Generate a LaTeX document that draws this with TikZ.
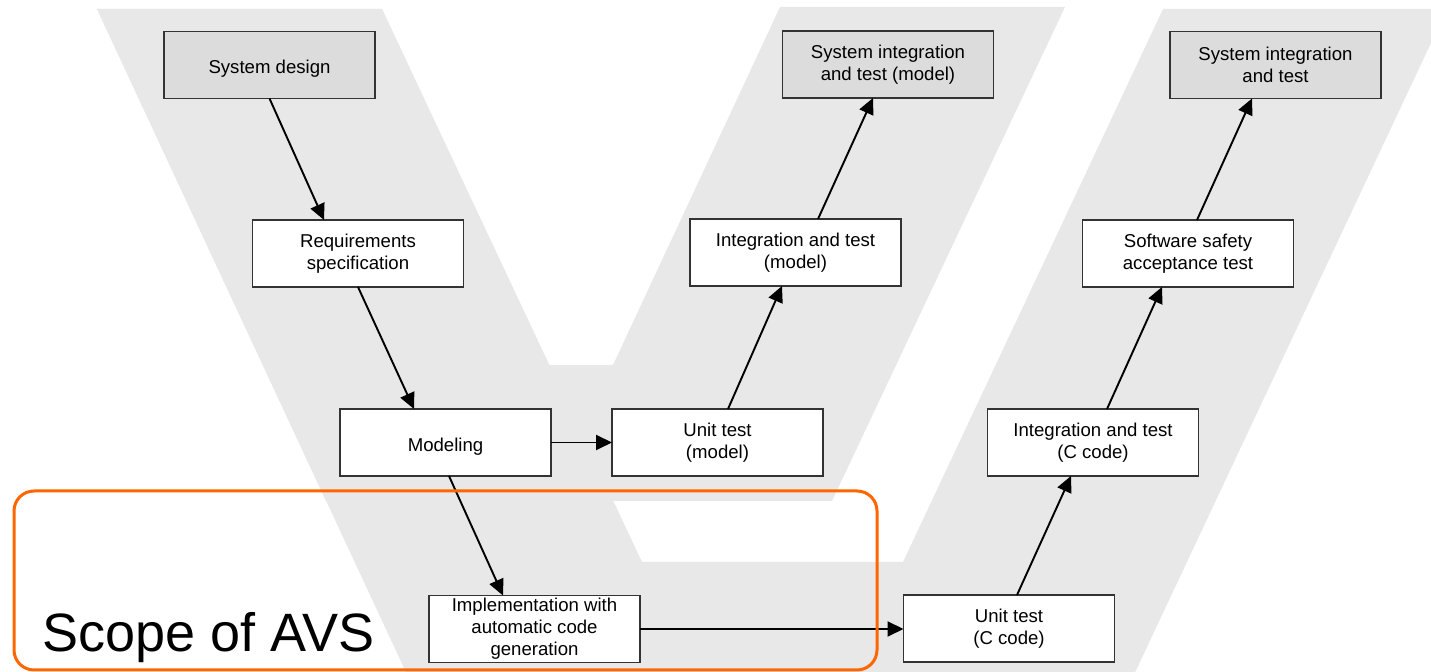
\documentclass[tikz,border=0pt]{standalone}
\usepackage{fontspec}
\setmainfont{Liberation Sans}
\usetikzlibrary{arrows.meta}
\definecolor{vgray}{RGB}{232,232,232}
\definecolor{boxgray}{RGB}{220,220,220}
\definecolor{scopeorange}{RGB}{255,102,0}

\begin{document}
\begin{tikzpicture}[x=0.5pt,y=-0.5pt,
  stage/.style={draw=black!80, line width=0.7pt, fill=white,
    minimum width=105.5pt, minimum height=33.5pt, inner sep=0pt,
    outer sep=0pt, align=center, font=\fontsize{9.3}{11}\selectfont},
  sysstage/.style={stage, fill=boxgray},
  oneline/.style={text height=9.5pt, text depth=0.5pt},
  flow/.style={line width=0.95pt, -{Triangle[length=8pt,width=7.5pt]}},
]
\useasboundingbox (0,0) rectangle (1431,672);
\clip (0,0) rectangle (1431,672);

% the two overlapping V bands
\fill[vgray] (97,9) -- (418,698) -- (1123,698) -- (1447,9) -- (1163,9)
  -- (903,562) -- (642,562) -- (382,9) -- cycle;
\fill[vgray] (97,9) -- (326,501) -- (832,501) -- (1065,7) -- (780,7)
  -- (613,365) -- (548,365) -- (382,9) -- cycle;

% stages
\node[sysstage, oneline] (sd) at (269.5,65) {System design};
\node[stage]    (req)  at (358,253.5)  {Requirements\\specification};
\node[stage, oneline] (mod) at (445.5,442.5) {Modeling};
\node[stage]    (impl) at (534.5,629)  {Implementation with\\automatic code\\generation};
\node[stage]    (utm)  at (717.5,442.5){Unit test\\(model)};
\node[stage]    (itm)  at (795.5,252.5){Integration and test\\(model)};
\node[sysstage] (sitm) at (888,64.5)   {System integration\\and test (model)};
\node[stage]    (utc)  at (1009,628.5) {Unit test\\(C code)};
\node[stage]    (itc)  at (1093,442.5) {Integration and test\\(C code)};
\node[stage]    (ssat) at (1188,253.5) {Software safety\\acceptance test};
\node[sysstage] (sit)  at (1275.5,65)  {System integration\\and test};

% flow between stages
\draw[flow] (sd.south) -- ([xshift=-17pt]req.north);
\draw[flow] (req.south) -- ([xshift=-15.75pt]mod.north);
\draw[flow] ([xshift=1.75pt]mod.south) -- ([xshift=-15.75pt]impl.north);
\draw[flow] (mod.east) -- (utm.west);
\draw[flow] ([xshift=5.25pt]utm.north) -- ([xshift=-6.75pt]itm.south);
\draw[flow] ([xshift=11.25pt]itm.north) -- ([xshift=-7.5pt]sitm.south);
\draw[flow] (impl.east) -- (impl.east -| utc.west);
\draw[flow] ([xshift=4pt]utc.north) -- ([xshift=-11pt]itc.south);
\draw[flow] ([xshift=7pt]itc.north) -- ([xshift=-13pt]ssat.south);
\draw[flow] ([xshift=4.5pt]ssat.north) -- ([xshift=-11.75pt]sit.south);

% scope frame
\draw[scopeorange, line width=1.5pt, rounded corners=10pt]
  (14,491) rectangle (877,670);
\node[anchor=base west, inner sep=0pt, font=\fontsize{27}{30}\selectfont]
  (scope) at (42,652) {Scope of AVS};
\end{tikzpicture}
\end{document}
